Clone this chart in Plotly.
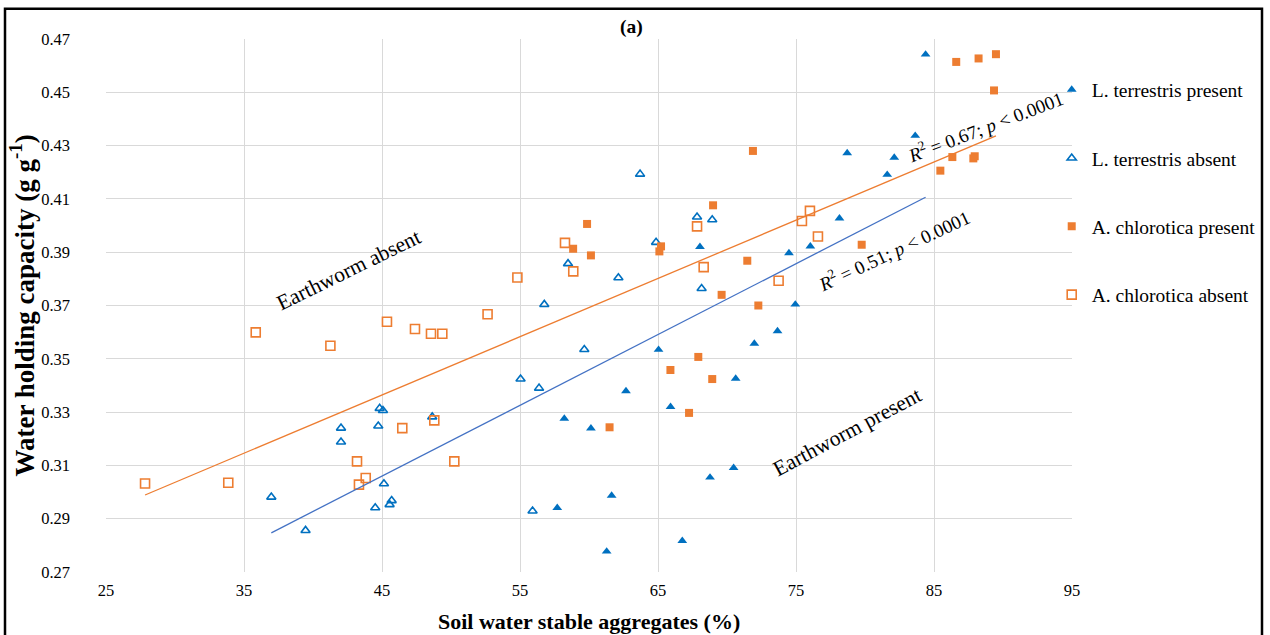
import plotly.graph_objects as go

# ---------------- data ----------------
lt_present_x = [84.39, 83.64, 78.71, 82.12, 81.61, 78.15, 68.04, 74.49, 76.04, 74.95, 73.66, 71.98,
                 65.04, 70.63, 62.68, 65.91, 58.21, 60.14, 61.64, 57.70, 61.28, 66.76, 68.77, 70.48]
lt_present_y = [0.4642, 0.4337, 0.4272, 0.4255, 0.4191, 0.4027, 0.3920, 0.3897, 0.3922, 0.3704, 0.3604, 0.3557,
                0.3534, 0.3426, 0.3379, 0.3320, 0.3276, 0.3239, 0.2987, 0.2941, 0.2777, 0.2817, 0.3055, 0.3091]

lt_absent_x = [63.70, 67.83, 68.93, 64.86, 58.48, 62.13, 56.76, 68.16, 59.66, 55.04, 56.38, 55.91,
               36.98, 39.46, 42.03, 42.03, 44.83, 45.07, 44.73, 48.64, 45.14, 45.70, 45.55, 44.51]
lt_absent_y = [0.4193, 0.4032, 0.4022, 0.3937, 0.3857, 0.3804, 0.3704, 0.3764, 0.3535, 0.3424, 0.3390, 0.2929,
               0.2981, 0.2856, 0.3240, 0.3188, 0.3314, 0.3306, 0.3248, 0.3282, 0.3031, 0.2968, 0.2953, 0.2941]

ac_present_x = [86.61, 88.23, 89.49, 89.35, 71.88, 86.33, 87.85, 87.95, 85.46, 68.99, 59.86, 58.85,
                60.14, 65.22, 65.10, 71.47, 79.76, 69.61, 72.27, 67.92, 65.90, 68.93, 67.25, 61.49]
ac_present_y = [0.4614, 0.4627, 0.4643, 0.4507, 0.4280, 0.4257, 0.4252, 0.4260, 0.4206, 0.4076, 0.4006, 0.3913,
                0.3888, 0.3922, 0.3903, 0.3868, 0.3928, 0.3740, 0.3700, 0.3507, 0.3458, 0.3424, 0.3297, 0.3243]

ac_absent_x = [27.83, 33.86, 35.85, 41.26, 45.36, 47.39, 48.55, 49.37, 52.65, 46.47, 48.79, 43.19,
               43.82, 43.33, 50.24, 58.26, 58.86, 54.81, 67.83, 68.31, 73.74, 76.01, 75.43, 76.59]
ac_absent_y = [0.3032, 0.3035, 0.3599, 0.3549, 0.3639, 0.3612, 0.3594, 0.3594, 0.3667, 0.3240, 0.3269, 0.3115,
               0.3053, 0.3028, 0.3115, 0.3935, 0.3828, 0.3805, 0.3997, 0.3844, 0.3793, 0.4055, 0.4017, 0.3959]

# linear trend parameters (intercept, slope)
lt_fit = (0.18648, 0.002656)
ac_fit = (0.23806, 0.002186)

x_ticks = [25, 35, 45, 55, 65, 75, 85, 95]
y_ticks = [0.27, 0.29, 0.31, 0.33, 0.35, 0.37, 0.39, 0.41, 0.43, 0.45, 0.47]

BLUE = "#0070C0"
ORANGE = "#ED7D31"
FONT = "Liberation Serif"

fig = go.Figure()

fig.add_trace(go.Scatter(x=lt_present_x, y=lt_present_y, mode="markers", name="L. terrestris present",
                         legendgroup="a",
                         marker=dict(symbol="triangle-up", size=8.5, color=BLUE, line=dict(width=0))))
fig.add_trace(go.Scatter(x=lt_absent_x, y=lt_absent_y, mode="markers", name="L. terrestris absent",
                         legendgroup="b",
                         marker=dict(symbol="triangle-up-open", size=8, color=BLUE, line=dict(width=1.6, color=BLUE))))
fig.add_trace(go.Scatter(x=ac_present_x, y=ac_present_y, mode="markers", name="A. chlorotica present",
                         legendgroup="c",
                         marker=dict(symbol="square", size=8, color=ORANGE, line=dict(width=0))))
fig.add_trace(go.Scatter(x=ac_absent_x, y=ac_absent_y, mode="markers", name="A. chlorotica absent",
                         legendgroup="d",
                         marker=dict(symbol="square-open", size=9, color=ORANGE, line=dict(width=1.6, color=ORANGE))))

# trend lines
lt_all_x = lt_present_x + lt_absent_x
ac_all_x = ac_present_x + ac_absent_x
lt_tx = [min(lt_all_x), max(lt_all_x)]
ac_tx = [min(ac_all_x), max(ac_all_x)]
fig.add_trace(go.Scatter(x=lt_tx, y=[lt_fit[0] + lt_fit[1] * v for v in lt_tx], mode="lines",
                         line=dict(color="#4472C4", width=1.3), showlegend=False, hoverinfo="skip"))
fig.add_trace(go.Scatter(x=ac_tx, y=[ac_fit[0] + ac_fit[1] * v for v in ac_tx], mode="lines",
                         line=dict(color=ORANGE, width=1.3), showlegend=False, hoverinfo="skip"))

axis_common = dict(showgrid=True, gridcolor="#D9D9D9", gridwidth=1, zeroline=False,
                   showline=False, ticks="", tickfont=dict(family=FONT, size=16.5, color="#000000"))

fig.update_xaxes(range=[25, 95], tickvals=x_ticks, ticktext=[str(v) for v in x_ticks],
                 ticklabelstandoff=6, **axis_common)
fig.update_yaxes(range=[0.27, 0.47], tickvals=y_ticks, ticktext=[f"{v:.2f}" for v in y_ticks],
                 ticklabelstandoff=35, **axis_common)

annotations = [
    dict(text="<b>(a)</b>", x=0.5445, y=1.023, xref="paper", yref="paper", showarrow=False,
         xanchor="center", yanchor="middle", font=dict(family=FONT, size=19.5, color="#000000")),
    dict(text="<b>Water holding capacity (g g<sup>-1</sup>)</b>", x=(22 - 106) / 966, y=0.5,
         xref="paper", yref="paper", xanchor="center", yanchor="middle",
         textangle=-90, showarrow=False, font=dict(family=FONT, size=27, color="#000000")),
    dict(text="<b>Soil water stable aggregates (%)</b>", x=0.5, y=(572.3 - 622) / 533, xref="paper", yref="paper",
         xanchor="center", yanchor="middle",
         showarrow=False, font=dict(family=FONT, size=22, color="#000000")),
    dict(text="<i>R</i><sup>2</sup> = 0.67; <i>p</i> &lt; 0.0001", x=88.7, y=0.4372, textangle=-21,
         showarrow=False, font=dict(family=FONT, size=19, color="#000000")),
    dict(text="<i>R</i><sup>2</sup> = 0.51; <i>p</i> &lt; 0.0001", x=82.03, y=0.391, textangle=-25,
         showarrow=False, font=dict(family=FONT, size=19, color="#000000")),
    dict(text="Earthworm absent", x=42.57, y=0.3835, textangle=-26,
         showarrow=False, font=dict(family=FONT, size=21.5, color="#000000")),
    dict(text="Earthworm present", x=78.7, y=0.3226, textangle=-28,
         showarrow=False, font=dict(family=FONT, size=21.5, color="#000000")),
]

fig.update_layout(
    width=1270, height=635,
    margin=dict(l=106, r=198, t=39, b=63, autoexpand=False),
    paper_bgcolor="white", plot_bgcolor="white",
    annotations=annotations,
    showlegend=True,
    legend=dict(x=0.979, xanchor="left", y=0.941, yanchor="top", tracegroupgap=40,
                font=dict(family=FONT, size=19.5, color="#000000"), itemwidth=30,
                bgcolor="rgba(0,0,0,0)"),
    shapes=[dict(type="rect", xref="paper", yref="paper",
                 x0=(5 - 106) / 966, x1=(1262 - 106) / 966,
                 y0=-0.2, y1=(572.3 - 9) / 533,
                 line=dict(color="black", width=2.5), fillcolor="rgba(0,0,0,0)", layer="below")],
)

fig.write_html("out.html", config={"displayModeBar": False},
               post_script="document.body.style.margin='0';")
